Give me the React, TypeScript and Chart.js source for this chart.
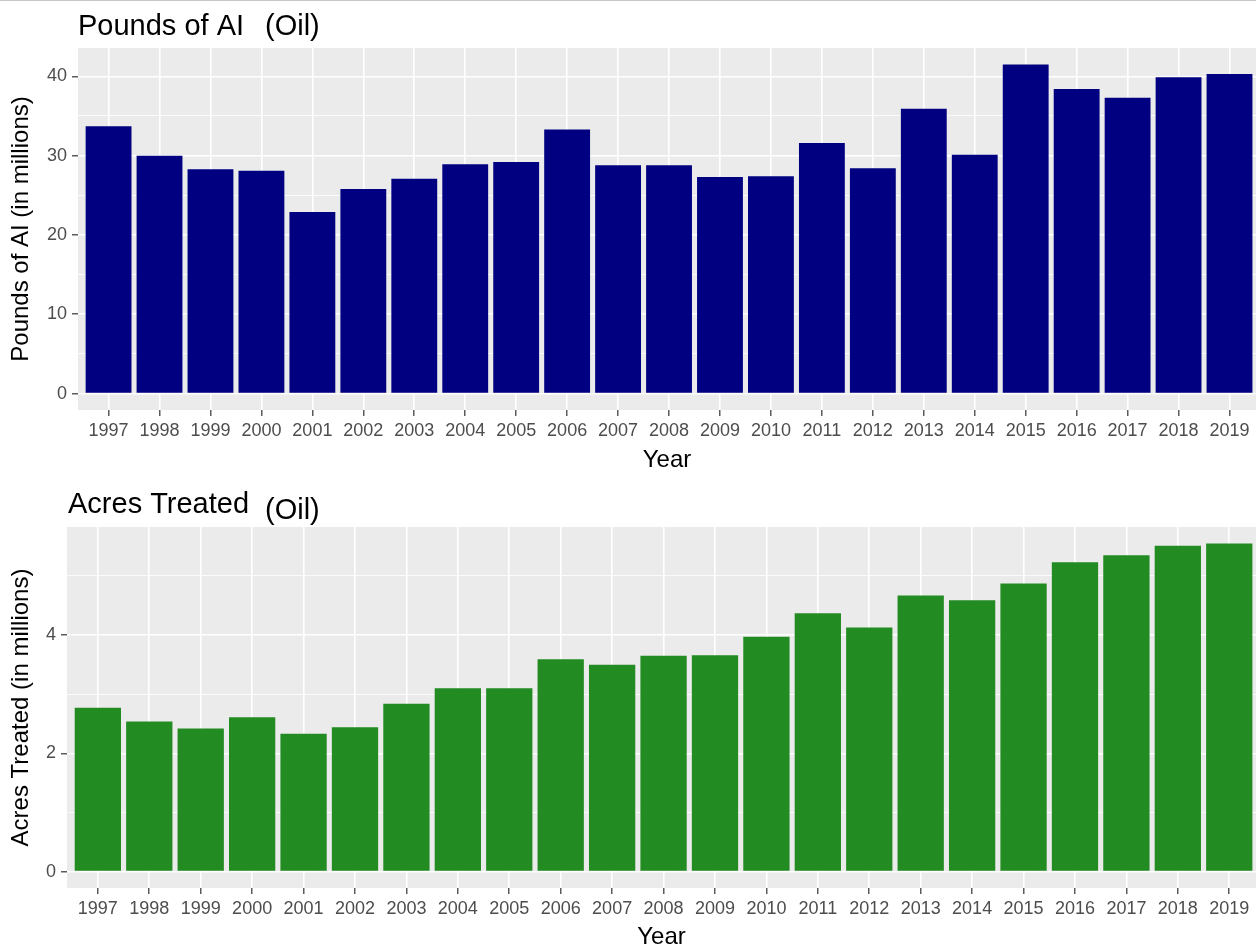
import React, { useEffect, useRef } from "react";
import { Chart, registerables } from "chart.js";

Chart.register(...registerables);

// ---------- data ----------
const years = [
  1997, 1998, 1999, 2000, 2001, 2002, 2003, 2004, 2005, 2006, 2007, 2008,
  2009, 2010, 2011, 2012, 2013, 2014, 2015, 2016, 2017, 2018, 2019,
];
const poundsOfAI = [
  33.7, 30.0, 28.3, 28.1, 22.9, 25.8, 27.1, 28.9, 29.2, 33.3, 28.8, 28.8,
  27.3, 27.4, 31.6, 28.4, 35.9, 30.1, 41.5, 38.4, 37.3, 39.9, 40.3,
];
const acresTreated = [
  2.77, 2.54, 2.42, 2.61, 2.33, 2.44, 2.84, 3.1, 3.1, 3.59, 3.5, 3.65, 3.66,
  3.97, 4.37, 4.13, 4.67, 4.59, 4.87, 5.23, 5.35, 5.51, 5.55,
];
const poundsMajorTicks = [0, 10, 20, 30, 40];
const poundsMinorTicks = [5, 15, 25, 35];
const acresMajorTicks = [0, 2, 4];
const acresMinorTicks = [1, 3, 5];

const FONT = '"Liberation Sans", Arial, Helvetica, sans-serif';
const X_MIN = 1996.4;
const X_MAX = 2019.52;

interface PanelSpec {
  values: number[];
  color: string;
  major: number[];
  minor: number[];
  titleMain: string;
  titleSuffix: string;
  yTitle: string;
  height: number;
  panelTop: number;
  panelBottom: number;
  panelLeft: number;
  mainX: number;
  mainY: number;
  suffixX: number;
  suffixY: number;
  xTitlePad: number;
}

const ggPanelPlugin = {
  id: "ggPanel",
  beforeDraw(chart: any) {
    const { ctx, chartArea: a } = chart;
    ctx.save();
    ctx.fillStyle = "#EBEBEB";
    ctx.fillRect(a.left, a.top, a.right - a.left, a.bottom - a.top);
    ctx.restore();
  },
  afterDraw(chart: any, _args: any, opts: any) {
    const ctx = chart.ctx;
    ctx.save();
    ctx.fillStyle = "#000000";
    ctx.font = `29px ${FONT}`;
    ctx.textAlign = "left";
    ctx.textBaseline = "alphabetic";
    ctx.fillText(opts.main, opts.mainX, opts.mainY);
    ctx.fillText(opts.suffix, opts.suffixX, opts.suffixY);
    ctx.restore();
  },
};

function buildChart(canvas: HTMLCanvasElement, s: PanelSpec) {
  const yMax = Math.max(...s.values);
  const pad = yMax * 0.05;
  const isMinor = (v: any) => s.minor.includes(v);
  return new Chart(canvas, {
    type: "bar",
    data: {
      datasets: [
        {
          data: years.map((yr, i) => ({ x: yr, y: s.values[i] })) as any,
          backgroundColor: s.color,
          borderWidth: 0,
          barPercentage: 0.9,
          categoryPercentage: 1,
        },
      ],
    },
    plugins: [ggPanelPlugin as any],
    options: {
      responsive: false,
      animation: false,
      devicePixelRatio: 1,
      layout: { padding: { top: s.panelTop, left: 0, right: 0, bottom: 0 } },
      plugins: {
        legend: { display: false },
        tooltip: { enabled: false },
        title: { display: false },
        ggPanel: {
          main: s.titleMain,
          suffix: s.titleSuffix,
          mainX: s.mainX,
          mainY: s.mainY,
          suffixX: s.suffixX,
          suffixY: s.suffixY,
        },
      } as any,
      scales: {
        x: {
          type: "linear",
          min: X_MIN,
          max: X_MAX,
          offset: false,
          afterBuildTicks: (sc: any) => {
            sc.ticks = years.map((v) => ({ value: v }));
          },
          afterFit: (sc: any) => {
            sc.height = s.height - s.panelBottom;
          },
          ticks: {
            autoSkip: false,
            maxRotation: 0,
            minRotation: 0,
            padding: 4,
            color: "#4D4D4D",
            font: { family: FONT, size: 18 },
            callback: (v: any) => String(v),
          },
          grid: {
            offset: false,
            color: "#FFFFFF",
            lineWidth: 1.6,
            drawTicks: true,
            tickLength: 6,
            tickColor: "#333333",
            tickWidth: 1.2,
          },
          border: { display: false },
          title: {
            display: true,
            text: "Year",
            color: "#000000",
            font: { family: FONT, size: 24 },
            padding: { top: 0, bottom: s.xTitlePad },
          },
        } as any,
        y: {
          type: "linear",
          min: -pad,
          max: yMax + pad,
          afterBuildTicks: (sc: any) => {
            sc.ticks = [...s.major, ...s.minor]
              .sort((a, b) => a - b)
              .map((v) => ({ value: v }));
          },
          afterFit: (sc: any) => {
            sc.width = s.panelLeft;
          },
          ticks: {
            autoSkip: false,
            padding: 5,
            color: "#4D4D4D",
            font: { family: FONT, size: 18 },
            callback: (v: any) => (s.major.includes(v) ? String(v) : ""),
          },
          grid: {
            color: "#FFFFFF",
            lineWidth: (ctx: any) => (isMinor(ctx.tick && ctx.tick.value) ? 0.8 : 1.6),
            drawTicks: true,
            tickLength: 6,
            tickColor: (ctx: any) =>
              isMinor(ctx.tick && ctx.tick.value) ? "rgba(0,0,0,0)" : "#333333",
            tickWidth: 1.2,
          },
          border: { display: false },
          title: {
            display: true,
            text: s.yTitle,
            color: "#000000",
            font: { family: FONT, size: 24 },
            padding: { top: 7, bottom: 0 },
          },
        } as any,
      },
    },
  });
}

const TOP_H = 476;
const BOT_H = 473;

export default function App() {
  const topRef = useRef<HTMLCanvasElement>(null);
  const botRef = useRef<HTMLCanvasElement>(null);

  useEffect(() => {
    const c1 = buildChart(topRef.current!, {
      values: poundsOfAI,
      color: "#000080",
      major: poundsMajorTicks,
      minor: poundsMinorTicks,
      titleMain: "Pounds of AI",
      titleSuffix: "(Oil)",
      yTitle: "Pounds of AI (in millions)",
      height: TOP_H,
      panelTop: 48,
      panelBottom: 410,
      panelLeft: 78,
      mainX: 78,
      mainY: 35,
      suffixX: 265,
      suffixY: 35,
      xTitlePad: 1,
    });
    const c2 = buildChart(botRef.current!, {
      values: acresTreated,
      color: "#228B22",
      major: acresMajorTicks,
      minor: acresMinorTicks,
      titleMain: "Acres Treated",
      titleSuffix: "(Oil)",
      yTitle: "Acres Treated (in millions)",
      height: BOT_H,
      panelTop: 51,
      panelBottom: 412,
      panelLeft: 67,
      mainX: 68,
      mainY: 37,
      suffixX: 265,
      suffixY: 43,
      xTitlePad: -3,
    });
    return () => {
      c1.destroy();
      c2.destroy();
    };
  }, []);

  return (
    <div
      style={{
        position: "absolute",
        left: 0,
        top: 0,
        width: 1256,
        height: 949,
        background: "#FFFFFF",
        overflow: "hidden",
      }}
    >
      <canvas
        ref={topRef}
        width={1256}
        height={TOP_H}
        style={{ position: "absolute", left: 0, top: 0, width: 1256, height: TOP_H }}
      />
      <canvas
        ref={botRef}
        width={1256}
        height={BOT_H}
        style={{ position: "absolute", left: 0, top: TOP_H, width: 1256, height: BOT_H }}
      />
      <div
        style={{
          position: "absolute",
          left: 0,
          top: 0,
          width: 1256,
          height: 1,
          background: "#C8C8C8",
        }}
      />
    </div>
  );
}
